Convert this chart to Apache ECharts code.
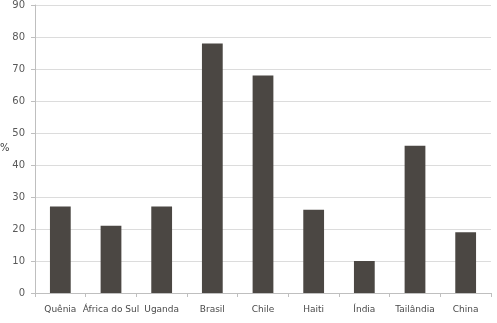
<!DOCTYPE html>
<html>
<head>
<meta charset="utf-8">
<script src="https://cdn.jsdelivr.net/npm/echarts@6/dist/echarts.min.js"></script>
<style>
  html, body { margin: 0; padding: 0; background: #fff; }
  #chart { width: 497px; height: 323px; }
</style>
</head>
<body>
<div id="chart"></div>
<script>
// 데이터
const paises = ["Quênia", "África do Sul", "Uganda", "Brasil", "Chile", "Haiti", "Índia", "Tailândia", "China"];
const valores = [27, 21, 27, 78, 68, 26, 10, 46, 19];
const yMin = 0;
const yMax = 90;
const yPasso = 10;

const chart = echarts.init(document.getElementById("chart"));

const option = {
  animation: false,
  textStyle: { fontFamily: "DejaVu Sans" },
  grid: { left: 35, right: 6, top: 3, bottom: 30 },
  graphic: [
    {
      type: "text",
      left: 0,
      top: 143,
      style: { text: "%", fontSize: 10, fill: "#404040", fontFamily: "DejaVu Sans" },
    },
  ],
  xAxis: {
    type: "category",
    data: paises,
    axisLine: { lineStyle: { color: "#bfbfbf" } },
    axisTick: { show: true, length: 4, lineStyle: { color: "#bfbfbf" } },
    axisLabel: { color: "#4a4a4a", fontSize: 9, margin: 12, interval: 0 },
  },
  yAxis: {
    type: "value",
    min: yMin,
    max: yMax,
    interval: yPasso,
    axisLine: { show: true, lineStyle: { color: "#bfbfbf" } },
    axisTick: { show: true, length: 4, lineStyle: { color: "#bfbfbf" } },
    axisLabel: { color: "#595959", fontSize: 10, margin: 10 },
    splitLine: { lineStyle: { color: "#dcdcdc" } },
  },
  series: [
    {
      type: "bar",
      data: valores,
      barWidth: "41%",
      itemStyle: { color: "#4b4743" },
    },
  ],
};

chart.setOption(option);
</script>
</body>
</html>
